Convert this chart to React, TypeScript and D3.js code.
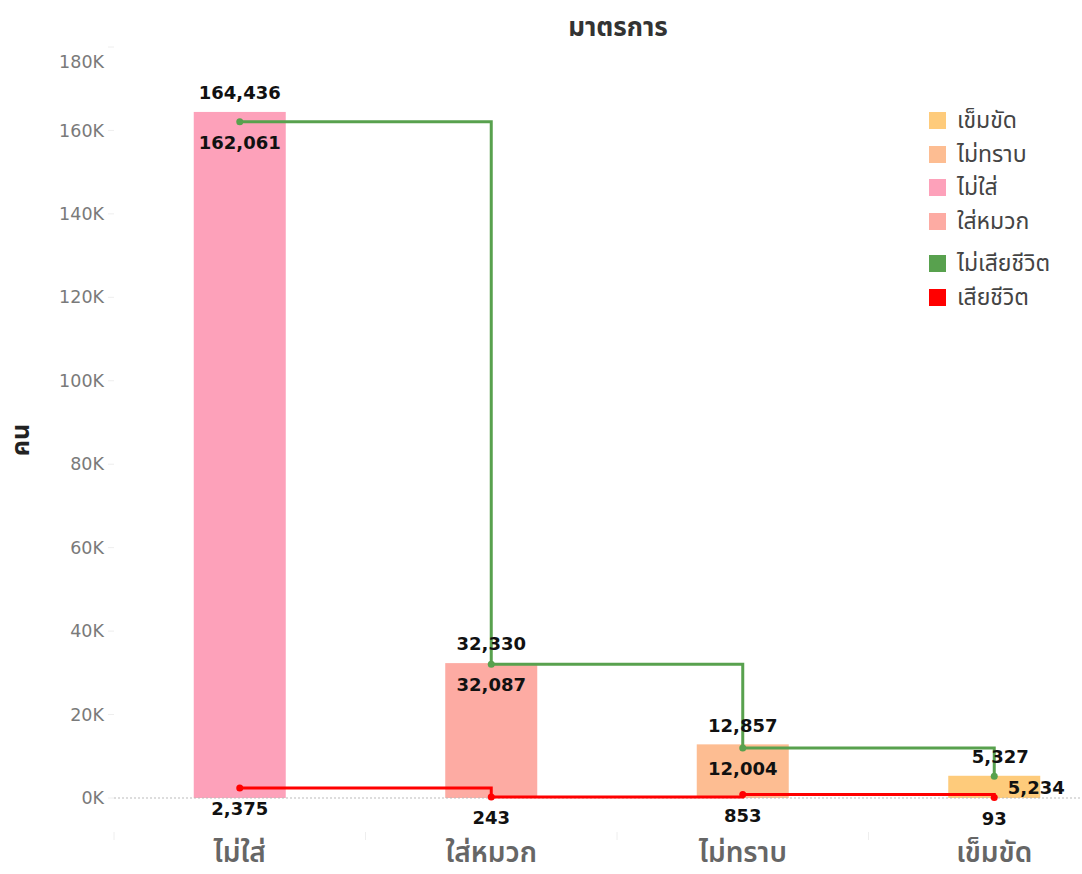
import React from "react";
import * as d3 from "d3";

// Categories (helmet / seat-belt measure)
const categories = ["ไม่ใส่", "ใส่หมวก", "ไม่ทราบ", "เข็มขัด"];
// Total people per category (bars)
const totals = [164436, 32330, 12857, 5327];
// Survived (green step line)
const survived = [162061, 32087, 12004, 5234];
// Died (red step line)
const died = [2375, 243, 853, 93];
const barColors = ["#FDA1BA", "#FDABA3", "#FDBD92", "#FECB7B"];
const yTicks = [0, 20000, 40000, 60000, 80000, 100000, 120000, 140000, 160000, 180000];

const legendItems = [
  { label: "เข็มขัด", color: "#FECB7B" },
  { label: "ไม่ทราบ", color: "#FDBD92" },
  { label: "ไม่ใส่", color: "#FDA1BA" },
  { label: "ใส่หมวก", color: "#FDABA3" },
  { label: "ไม่เสียชีวิต", color: "#58A14E" },
  { label: "เสียชีวิต", color: "#FF0000" },
];

const FONT = "'Noto Sans Thai', 'Noto Sans', 'DejaVu Sans', sans-serif";
const NUM_FONT = "'DejaVu Sans', sans-serif";
const fmt = d3.format(",");

export default function App() {
  const W = 1082;
  const H = 874;
  const x = d3.scaleBand<string>().domain(categories).range([114, 1120]).padding(0);
  const y = d3.scaleLinear().domain([0, 180000]).range([798, 47]);
  const barW = 92;
  const cx = (i: number) => (x(categories[i]) as number) + x.bandwidth() / 2;

  const stepLine = d3
    .line<number>()
    .x((_, i) => cx(i))
    .y((d) => y(d))
    .curve(d3.curveStepAfter);

  const legendY = [120, 154, 187, 221, 263, 297];

  return (
    <svg width={W} height={H} style={{ position: "absolute", left: 0, top: 0, background: "#fff" }} fontFamily={FONT}>
      {/* title */}
      <text x={618} y={36} textAnchor="middle" fontSize={26} fontWeight={700} fill="#333">
        มาตรการ
      </text>
      {/* y axis title */}
      <text transform="translate(29,440) rotate(-90)" textAnchor="middle" fontSize={25} fontWeight={700} fill="#222">
        คน
      </text>

      {/* y axis ticks */}
      {yTicks.map((t, i) => (
        <g key={t}>
          <line x1={108} x2={114} y1={y(t)} y2={y(t)} stroke="#eee" />
          <text
            x={104}
            y={i === yTicks.length - 1 ? 62 : y(t)}
            dy="0.35em"
            textAnchor="end"
            fontSize={17.5}
            fontFamily={NUM_FONT}
            fill="#7a7a7a"
          >
            {t / 1000}K
          </text>
        </g>
      ))}

      {/* bars */}
      {totals.map((v, i) => (
        <rect key={i} x={cx(i) - barW / 2} y={y(v)} width={barW} height={y(0) - y(v)} fill={barColors[i]} />
      ))}

      {/* zero line */}
      <line x1={114} x2={1080} y1={y(0)} y2={y(0)} stroke="#bbb" strokeDasharray="2,2" strokeWidth={1} />

      {/* x axis band separators */}
      {categories.map((c) => (
        <line key={c} x1={x(c) as number} x2={x(c) as number} y1={832} y2={840} stroke="#eee" />
      ))}

      {/* step lines */}
      <path d={stepLine(survived) || ""} fill="none" stroke="#58A14E" strokeWidth={3} />
      <path d={stepLine(died) || ""} fill="none" stroke="#FF0000" strokeWidth={3} />
      {survived.map((v, i) => (
        <circle key={"s" + i} cx={cx(i)} cy={y(v)} r={3.5} fill="#58A14E" />
      ))}
      {died.map((v, i) => (
        <circle key={"d" + i} cx={cx(i)} cy={y(v)} r={3.5} fill="#FF0000" />
      ))}

      <g fontFamily={NUM_FONT} fontSize={18} fontWeight={700} fill="#111" textAnchor="middle">
        {/* total labels above bars */}
        {totals.map((v, i) => (
          <text key={"t" + i} x={cx(i) + (i === 3 ? 6 : 0)} y={y(v) - 19} dy="0.35em">
            {fmt(v)}
          </text>
        ))}
        {/* survived labels */}
        {survived.map((v, i) => (
          <text key={"sl" + i} x={cx(i) + (i === 3 ? 42 : 0)} y={y(v) + (i === 3 ? 12 : 21)} dy="0.35em">
            {fmt(v)}
          </text>
        ))}
        {/* died labels */}
        {died.map((v, i) => (
          <text key={"dl" + i} x={cx(i)} y={y(v) + 21} dy="0.35em">
            {fmt(v)}
          </text>
        ))}
      </g>

      {/* x axis labels */}
      {categories.map((c, i) => (
        <text key={"x" + i} x={cx(i)} y={862} textAnchor="middle" fontSize={28} fontWeight={600} fill="#666">
          {c}
        </text>
      ))}

      {/* legend */}
      {legendItems.map((it, i) => (
        <g key={it.label} transform={`translate(929,${legendY[i]})`}>
          <rect x={0} y={-8} width={17} height={17} fill={it.color} />
          <text x={28} y={0} dy="0.35em" fontSize={23} fill="#444">
            {it.label}
          </text>
        </g>
      ))}
    </svg>
  );
}
